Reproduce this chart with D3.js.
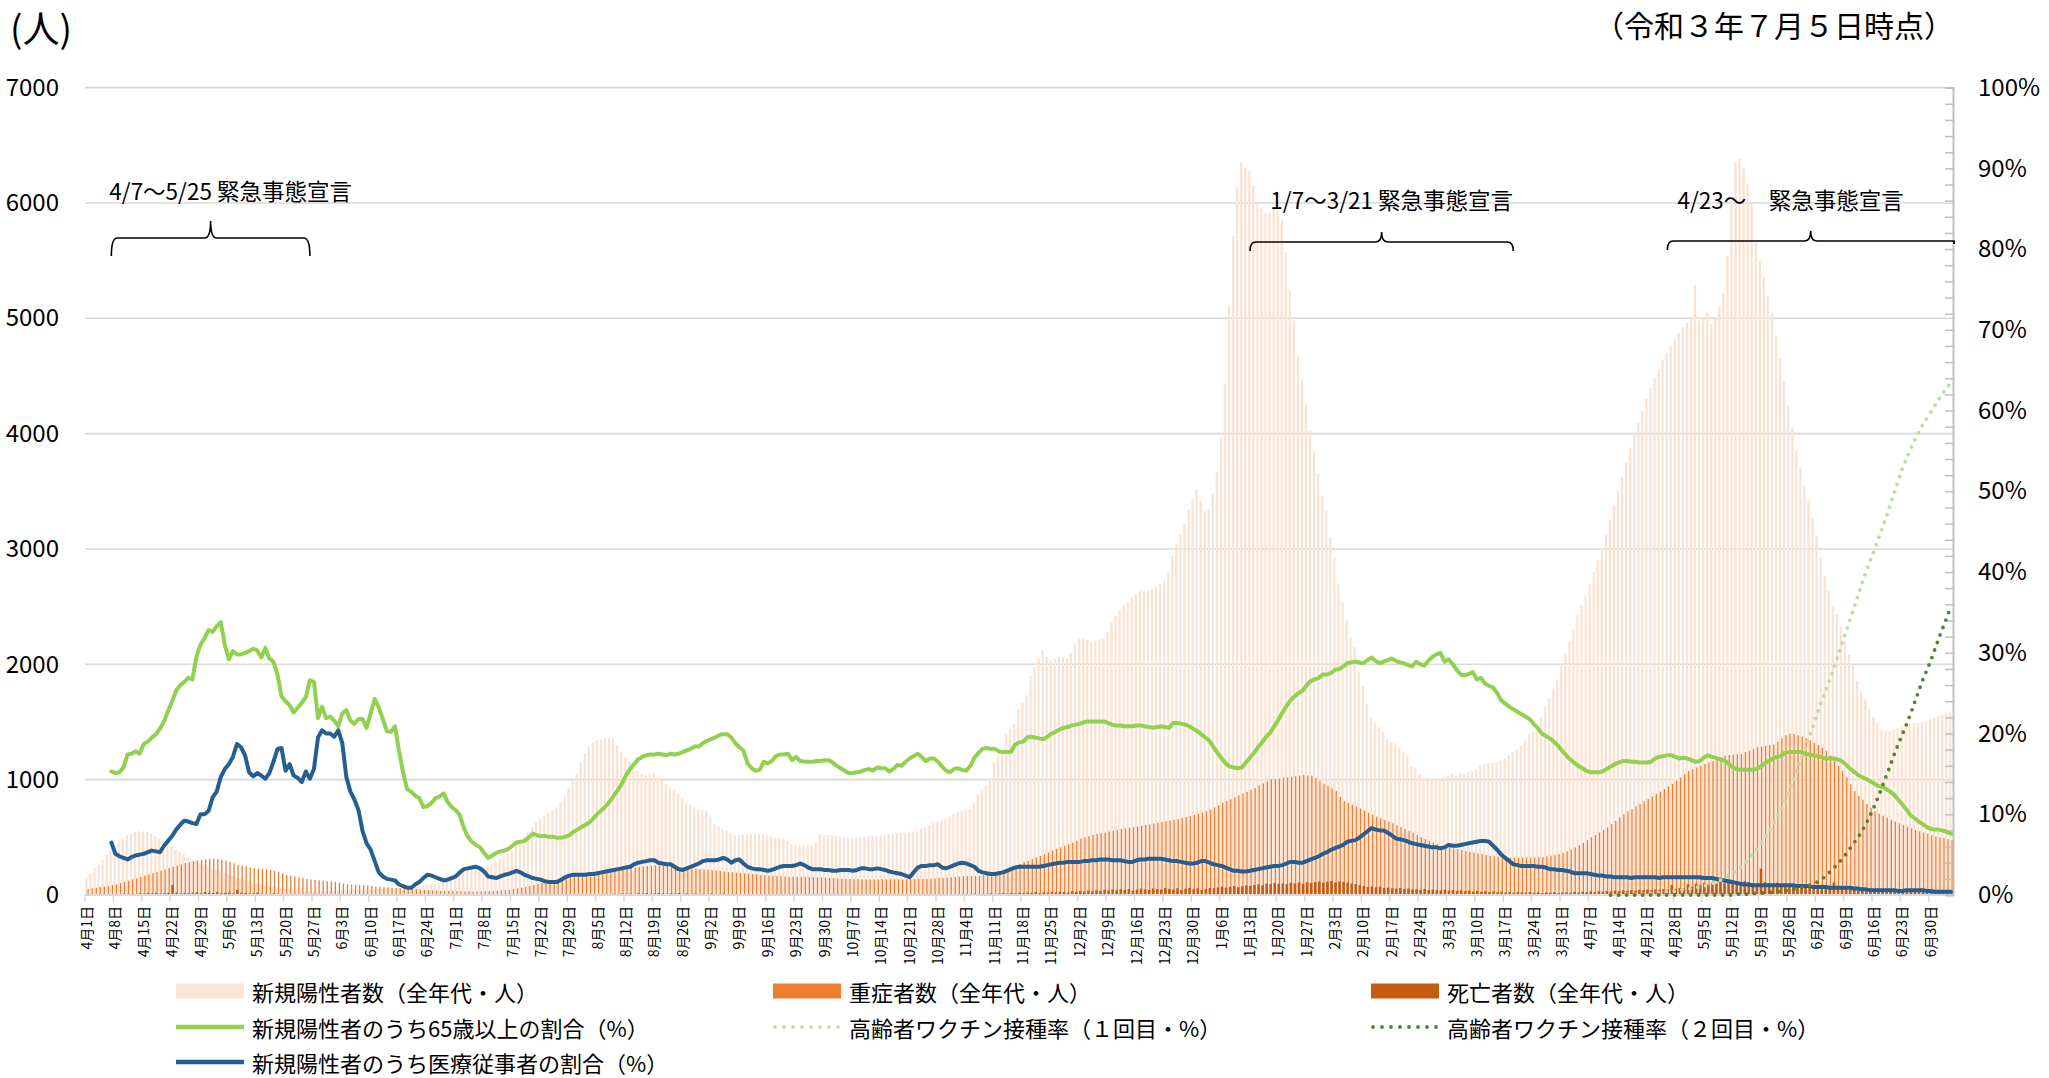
<!DOCTYPE html>
<html><head><meta charset="utf-8">
<script src="https://cdn.jsdelivr.net/npm/d3@7"></script>
<style>
html,body{margin:0;padding:0;background:#fff;}
svg{display:block;font-family:"Noto Sans CJK JP","Noto Sans",sans-serif;}
</style></head><body>
<svg id="chart" width="2049" height="1078"></svg>
<script>
// ---------- DATA ----------
const startDate = [2020, 4, 1];   // first category (year, month, day)
const dayCount = 461;             // 2020-04-01 .. 2021-07-05

// 新規陽性者数（全年代・人）
const newCases = [
150,190,233,262,306,350,394,423,466,490,
519,534,545,554,554,548,534,510,490,472,
452,423,394,373,356,335,315,297,277,262,
242,228,215,202,190,178,165,152,140,128,
118,108,99,90,82,75,68,62,57,52,
48,44,40,37,34,32,31,32,33,35,
37,38,39,40,41,42,43,44,45,46,
47,48,50,52,54,56,58,61,64,68,
72,76,80,84,88,95,102,110,120,132,
150,165,180,198,212,225,235,242,248,254,
270,290,312,335,360,384,420,460,500,545,
590,630,660,685,710,731,760,800,860,933,
990,1049,1150,1230,1290,1320,1340,1350,1360,1361,
1355,1300,1240,1194,1160,1136,1080,1050,1043,1050,
1055,1020,990,962,930,910,880,840,803,780,
760,745,735,731,680,615,590,570,558,535,
514,520,527,529,529,529,529,529,520,510,
500,495,488,470,440,428,428,428,428,435,
457,528,525,520,515,510,505,500,495,493,
495,500,505,510,513,515,520,525,528,532,
535,538,540,542,548,560,571,585,605,629,
640,650,658,680,700,722,730,738,745,800,
875,910,950,1006,1151,1200,1252,1397,1440,1484,
1615,1670,1731,1900,1977,2050,2122,2064,2035,2050,
2064,2060,2050,2100,2165,2232,2224,2210,2194,2203,
2215,2224,2282,2368,2420,2470,2520,2542,2580,2610,
2639,2639,2639,2653,2670,2697,2726,2798,2942,3044,
3130,3217,3347,3434,3520,3419,3327,3347,3477,3665,
3968,4431,5110,5717,6136,6353,6303,6280,6150,5991,
5948,5910,5910,5948,5934,5847,5572,5240,4980,4677,
4474,4257,4026,3853,3650,3463,3333,3102,2928,2697,
2538,2383,2238,2151,1934,1809,1658,1528,1490,1455,
1412,1354,1325,1316,1281,1238,1209,1122,1107,1049,
1020,1020,1006,1006,1006,1020,1035,1049,1035,1049,
1049,1064,1073,1093,1122,1136,1142,1145,1151,1165,
1180,1209,1238,1267,1296,1339,1397,1412,1470,1542,
1629,1702,1789,1861,1992,2093,2195,2296,2426,2513,
2600,2700,2800,2900,3000,3120,3250,3380,3500,3620,
3750,3880,4000,4100,4200,4300,4400,4480,4560,4640,
4700,4760,4820,4870,4920,4960,5000,5290,4980,5000,
5050,4950,5000,5100,5220,5540,6030,6350,6380,6300,
6160,5990,5660,5490,5350,5200,5050,4850,4650,4450,
4250,4050,3850,3700,3550,3420,3270,3116,2928,2768,
2638,2507,2435,2319,2203,2087,1985,1855,1768,1696,
1608,1542,1493,1435,1426,1420,1435,1449,1464,1478,
1484,1493,1493,1501,1507,1522,1536,1551,1565,1580,
1590];

// 重症者数（全年代・人）
const severe = [
52,58,63,68,74,80,86,93,103,113,
124,135,146,157,168,179,190,201,212,222,
233,244,255,266,277,285,292,299,306,310,
313,315,312,305,297,288,275,262,255,248,
240,233,229,225,222,219,210,200,188,175,
168,160,152,147,141,136,131,127,124,120,
117,112,106,99,93,90,88,86,84,82,
78,74,71,67,65,63,61,60,59,58,
56,52,48,45,42,40,38,37,36,35,
35,34,33,32,32,31,31,31,32,33,
35,37,40,43,47,52,58,64,72,80,
88,96,104,112,120,128,135,142,150,158,
165,170,175,180,184,188,192,197,203,209,
215,220,226,232,236,240,244,248,251,254,
256,256,254,251,248,244,240,237,234,230,
228,225,222,219,215,212,208,204,200,197,
194,191,188,185,182,179,175,172,168,166,
164,162,161,160,159,159,158,157,156,155,
154,153,150,148,146,144,142,140,139,138,
137,136,136,136,136,136,136,136,136,136,
136,136,136,137,138,139,140,141,142,144,
146,148,150,153,156,159,162,164,165,166,
167,170,178,186,195,203,210,215,230,250,
268,285,296,310,325,339,355,370,385,400,
413,426,440,455,470,490,500,510,520,530,
537,542,550,558,565,571,577,583,588,594,
600,606,612,620,627,634,640,646,652,660,
668,675,684,694,705,716,726,740,760,780,
800,815,830,848,865,880,895,912,930,950,
968,985,1000,1005,1010,1015,1020,1025,1030,1035,
1040,1038,1035,1015,990,965,945,925,904,850,
815,800,785,768,750,732,714,696,680,666,
652,638,622,605,590,573,557,540,522,503,
484,470,455,440,426,418,411,404,397,390,
382,375,368,361,354,347,340,336,332,328,
325,325,324,324,325,325,325,326,327,330,
335,341,347,354,366,378,392,412,432,452,
475,499,520,542,564,586,615,644,673,702,
724,746,768,789,811,832,854,875,897,919,
940,962,990,1020,1050,1078,1092,1106,1120,1136,
1150,1164,1180,1195,1209,1213,1216,1220,1223,1238,
1252,1266,1281,1287,1293,1299,1305,1330,1360,1385,
1400,1395,1385,1375,1360,1340,1320,1300,1278,1252,
1210,1165,1120,1078,1020,960,900,860,825,790,
755,724,705,688,670,653,637,622,608,594,
579,565,553,541,530,518,507,500,493,485,
478];

// 死亡者数（全年代・人）
const deaths = [
3,4,2,6,5,8,7,9,5,12,10,11,9,14,13,18,15,20,12,16,19,87,22,14,18,17,21,24,15,26,20,
18,25,16,19,22,14,44,20,17,13,15,21,12,10,9,14,11,8,7,6,9,5,8,6,4,7,5,3,6,4,
3,2,4,5,2,3,1,2,4,3,2,1,2,3,1,0,2,1,3,2,1,0,1,2,1,0,1,2,1,0,
1,0,2,1,0,1,2,1,0,1,2,1,0,2,1,1,3,2,1,0,2,3,1,2,4,3,2,5,4,3,6,
5,7,6,8,5,9,10,7,12,8,14,11,13,9,15,12,16,10,14,18,13,11,15,12,17,9,14,10,12,8,11,
9,13,7,10,12,8,6,11,9,7,10,5,8,6,9,7,4,8,6,5,7,9,6,8,5,7,6,4,8,5,
7,5,6,4,8,6,5,7,3,9,5,6,4,7,5,6,8,4,6,5,7,3,6,4,5,7,6,8,5,9,7,
6,8,10,7,9,12,8,11,10,14,9,13,16,12,18,15,20,17,22,19,25,18,24,21,28,23,30,26,22,33,
28,35,30,38,33,41,36,44,39,48,42,50,45,52,38,47,55,49,43,56,51,46,60,53,48,58,44,55,62,50,57,
45,52,60,58,66,72,64,70,78,68,75,84,79,87,92,85,99,95,104,98,101,93,106,100,108,97,110,103,112,118,107,
116,122,109,118,113,107,100,94,86,78,70,74,66,72,60,64,58,55,62,52,56,48,50,45,53,44,47,42,
40,46,38,43,35,41,33,37,30,36,28,32,26,31,24,29,22,27,20,25,23,21,26,19,24,18,22,20,25,17,21,
23,19,26,22,28,24,30,27,33,29,35,31,38,34,40,36,42,38,45,41,47,43,49,46,52,48,87,55,60,58,
93,72,98,85,104,90,110,95,115,100,108,96,118,105,122,110,100,98,229,112,104,96,107,92,100,88,95,84,90,80,86,
78,85,72,80,68,110,70,64,72,58,66,55,62,50,57,46,53,42,49,40,45,37,42,34,39,31,36,29,33,27,
30,25,28,22,24];

// lines (%), starting at index of 2020-04-07
const ratioStartIndex = 6;
// 新規陽性者のうち65歳以上の割合（%）
const elderlyRatio = [
15.3,15.1,15.2,15.8,17.4,17.5,17.8,17.5,18.7,19.0,
19.5,19.9,20.6,21.5,22.8,24.0,25.3,26.0,26.4,26.9,
26.7,29.5,31.0,31.8,32.8,32.6,33.3,33.8,31.0,29.2,
30.2,29.8,29.8,30.0,30.2,30.5,30.3,29.4,30.6,29.3,
28.9,27.3,24.6,24.0,23.5,22.6,23.2,23.8,24.5,26.6,
26.4,21.9,23.3,21.9,22.1,21.6,20.9,22.5,22.9,21.6,
21.2,21.8,21.8,20.7,22.5,24.3,23.2,21.8,20.3,20.2,
20.9,17.8,15.2,13.1,12.8,12.3,12.0,10.9,11.0,11.4,
12.0,12.2,12.6,11.5,10.9,10.5,9.9,8.3,7.2,6.6,
6.2,5.9,5.2,4.6,4.9,5.2,5.4,5.5,5.7,6.1,
6.5,6.6,6.7,7.1,7.6,7.4,7.3,7.3,7.2,7.2,
7.1,7.1,7.2,7.4,7.8,8.1,8.4,8.7,9.0,9.5,
10.1,10.5,11.0,11.6,12.3,13.0,13.8,14.8,15.6,16.2,
16.8,17.1,17.3,17.4,17.4,17.5,17.4,17.3,17.5,17.4,
17.5,17.7,17.9,18.1,18.4,18.4,18.8,19.1,19.3,19.5,
19.8,19.9,19.9,19.5,18.8,18.3,17.9,16.3,15.7,15.4,
15.5,16.5,16.3,16.6,17.2,17.4,17.4,17.5,16.7,17.1,
16.6,16.5,16.5,16.5,16.6,16.6,16.7,16.7,16.4,16.0,
15.7,15.4,15.1,15.1,15.2,15.3,15.5,15.6,15.4,15.8,
15.7,15.7,15.3,15.6,16.1,16.0,16.5,16.9,17.2,17.5,
17.1,16.6,16.9,16.9,16.5,15.9,15.4,15.2,15.6,15.7,
15.5,15.4,16.0,17.0,17.6,18.1,18.2,18.1,18.1,17.8,
17.7,17.7,17.7,18.6,18.9,19.0,19.5,19.6,19.5,19.4,
19.3,19.6,20.0,20.2,20.5,20.7,20.8,21.0,21.1,21.2,
21.4,21.5,21.5,21.5,21.5,21.5,21.3,21.1,21.0,21.0,
20.9,20.9,20.9,21.0,21.0,20.9,20.8,20.7,20.8,20.9,
20.8,20.7,21.3,21.3,21.2,21.1,20.9,20.6,20.3,19.9,
19.5,19.1,18.3,17.6,16.9,16.3,15.9,15.8,15.7,15.8,
16.4,17.0,17.6,18.3,18.9,19.6,20.1,20.9,21.7,22.6,
23.4,24.1,24.6,25.0,25.3,26.0,26.5,26.7,26.9,27.3,
27.3,27.5,27.9,28.0,28.3,28.7,28.8,28.9,28.8,28.7,
29.1,29.4,29.0,28.7,28.9,29.1,29.3,29.0,28.8,28.7,
28.5,28.3,28.9,28.6,28.4,29.0,29.5,29.8,30.0,28.9,
29.2,28.6,27.9,27.3,27.2,27.4,27.6,26.7,26.9,26.2,
25.9,25.7,25.0,24.1,23.7,23.3,23.0,22.7,22.4,22.1,
21.8,21.2,20.7,20.0,19.7,19.4,19.0,18.5,17.9,17.3,
16.8,16.4,16.0,15.7,15.4,15.2,15.2,15.2,15.3,15.6,
15.9,16.2,16.4,16.6,16.6,16.5,16.5,16.4,16.4,16.4,
16.5,16.9,17.1,17.2,17.3,17.3,17.1,16.9,17.0,16.9,
16.7,16.5,16.6,17.0,17.3,17.1,17.0,16.8,16.7,16.3,
15.9,15.6,15.5,15.5,15.5,15.5,15.6,15.9,16.3,16.6,
16.9,17.1,17.2,17.6,17.7,17.7,17.7,17.7,17.5,17.4,
17.3,17.2,17.1,16.9,16.9,16.9,16.8,16.6,16.2,15.7,
15.3,14.9,14.6,14.4,14.1,13.8,13.5,13.4,13.1,12.8,
12.4,11.8,11.2,10.6,9.9,9.5,9.1,8.8,8.4,8.2,
8.1,8.1,8.0,7.8,7.6];

// 新規陽性者のうち医療従事者の割合（%）
const medicalRatio = [
6.5,5.1,4.8,4.6,4.4,4.7,4.9,5.0,5.1,5.3,
5.5,5.4,5.3,6.1,6.7,7.3,8.1,8.7,9.2,9.1,
8.9,8.8,10.0,10.0,10.4,12.1,12.8,14.6,15.6,16.2,
17.1,18.7,18.3,17.3,15.2,14.7,15.1,14.8,14.4,15.1,
16.5,18.1,18.2,15.4,16.2,14.8,14.5,14.0,15.3,14.4,
15.6,19.5,20.4,20.0,20.0,19.6,20.4,18.8,14.6,12.8,
11.8,10.5,7.9,6.4,5.6,4.2,2.8,2.3,2.0,1.9,
1.8,1.3,1.1,0.9,0.9,1.3,1.6,2.1,2.5,2.4,
2.2,2.0,1.8,1.9,2.1,2.3,2.8,3.2,3.3,3.4,
3.5,3.3,2.9,2.3,2.2,2.1,2.3,2.5,2.6,2.8,
3.0,2.8,2.5,2.3,2.1,2.0,1.9,1.7,1.6,1.6,
1.6,1.9,2.2,2.4,2.5,2.5,2.5,2.5,2.6,2.6,
2.7,2.8,2.9,3.0,3.1,3.2,3.3,3.4,3.5,3.8,
4.0,4.1,4.2,4.3,4.3,4.0,3.9,3.8,3.8,3.5,
3.2,3.1,3.3,3.5,3.7,3.9,4.2,4.3,4.3,4.3,
4.4,4.6,4.4,4.0,4.3,4.4,3.9,3.5,3.3,3.2,
3.2,3.1,3.0,3.1,3.3,3.5,3.6,3.6,3.6,3.7,
3.9,3.7,3.4,3.2,3.2,3.2,3.1,3.1,3.0,3.0,
3.1,3.1,3.1,3.0,3.1,3.3,3.3,3.2,3.2,3.3,
3.2,3.1,2.9,2.8,2.7,2.6,2.4,2.2,2.8,3.4,
3.6,3.6,3.7,3.7,3.8,3.4,3.3,3.5,3.7,3.9,
4.0,3.9,3.7,3.5,3.0,2.8,2.7,2.6,2.6,2.7,
2.8,3.0,3.2,3.4,3.5,3.5,3.5,3.5,3.5,3.5,
3.6,3.7,3.8,3.9,4.0,4.0,4.1,4.1,4.1,4.1,
4.2,4.2,4.3,4.3,4.4,4.4,4.4,4.3,4.3,4.3,
4.2,4.1,4.1,4.3,4.4,4.4,4.5,4.5,4.5,4.5,
4.4,4.3,4.2,4.2,4.1,4.0,3.9,3.9,4.0,4.2,
4.2,4.0,3.8,3.7,3.6,3.4,3.2,3.0,3.0,2.9,
2.9,3.0,3.1,3.2,3.3,3.4,3.5,3.6,3.6,3.7,
3.9,4.1,4.1,4.0,4.0,4.2,4.4,4.6,4.8,5.1,
5.3,5.6,5.8,6.0,6.2,6.6,6.7,6.8,7.1,7.5,
7.9,8.3,8.1,8.0,8.0,7.7,7.4,7.0,6.9,6.8,
6.6,6.4,6.3,6.2,6.1,6.0,5.9,5.9,5.8,5.9,
6.2,6.1,6.1,6.2,6.3,6.4,6.5,6.6,6.7,6.7,
6.6,6.1,5.6,5.0,4.6,4.2,3.8,3.7,3.6,3.6,
3.6,3.6,3.5,3.5,3.4,3.2,3.2,3.1,3.1,3.0,
2.9,2.7,2.7,2.7,2.7,2.6,2.5,2.4,2.4,2.3,
2.3,2.2,2.2,2.2,2.2,2.1,2.2,2.2,2.2,2.2,
2.2,2.2,2.1,2.2,2.2,2.2,2.2,2.2,2.2,2.2,
2.2,2.2,2.2,2.1,2.1,2.1,2.0,1.9,1.8,1.7,
1.6,1.5,1.4,1.3,1.3,1.2,1.2,1.2,1.2,1.2,
1.2,1.2,1.2,1.2,1.2,1.2,1.1,1.1,1.1,1.1,
1.0,1.0,1.0,1.0,0.9,0.9,0.9,0.9,0.9,0.9,
0.8,0.8,0.7,0.7,0.6,0.6,0.6,0.6,0.6,0.6,
0.6,0.5,0.5,0.6,0.6,0.6,0.6,0.6,0.5,0.5,
0.4,0.4,0.4,0.4,0.4];

// vaccination lines (%), starting at index of 2021-04-12
const vaccineStartIndex = 376;
// 高齢者ワクチン接種率（１回目・%）
const vaccine1 = [
0.0,0.0,0.0,0.0,0.1,0.1,0.1,0.1,0.1,0.2,
0.2,0.2,0.3,0.3,0.4,0.5,0.5,0.6,0.7,0.7,
0.8,0.9,1.0,1.1,1.3,1.4,1.6,1.8,2.1,2.4,
2.7,3.0,3.4,3.9,4.4,5.0,5.6,6.3,7.0,7.8,
8.7,9.6,10.5,11.6,12.8,14.1,15.4,16.8,18.1,19.6,
21.0,22.5,23.9,25.2,26.6,28.0,29.5,31.0,32.5,34.0,
35.5,37.0,38.5,40.0,41.3,42.6,44.0,45.4,46.8,48.3,
49.8,51.3,52.8,54.0,55.2,56.3,57.3,58.2,59.0,59.8,
60.6,61.4,62.1,62.8,63.5];
// 高齢者ワクチン接種率（２回目・%）
const vaccine2 = [
0,0,0,0,0,0,0,0,0,0,
0,0,0,0,0,0,0,0,0,0,
0,0,0,0,0,0,0,0,0,0,
0.0,0.1,0.1,0.1,0.1,0.2,0.2,0.2,0.3,0.3,
0.4,0.4,0.5,0.5,0.6,0.7,0.8,0.9,1.0,1.2,
1.4,1.6,1.9,2.3,2.8,3.3,3.8,4.4,5.0,5.7,
6.4,7.1,7.9,8.8,9.8,10.9,12.1,13.4,14.7,16.0,
17.4,18.7,19.9,21.1,22.4,23.8,25.2,26.6,27.8,29.0,
30.4,31.8,33.1,34.4,35.8];

const leftTicks = [0,1000,2000,3000,4000,5000,6000,7000];
const rightTicks = [0,10,20,30,40,50,60,70,80,90,100];
const minorRightTicks = d3.range(0, 101, 2);
const tickEvery = 7;

// emergency declarations: label, bracket start/end index (as drawn)
const declarations = [
  {label: "4/7～5/25 緊急事態宣言", from: 6, to: 55},
  {label: "1/7～3/21 緊急事態宣言", from: 287, to: 352},
  {label: "4/23～\u3000緊急事態宣言", from: 390, to: null}
];

const titleUnit = "(人)";
const titleDate = "（令和３年７月５日時点）";

const legendItems = [
  {label: "新規陽性者数（全年代・人）", kind: "rect", color: "#FBE5D6"},
  {label: "重症者数（全年代・人）", kind: "rect", color: "#ED7D31"},
  {label: "死亡者数（全年代・人）", kind: "rect", color: "#C55A11"},
  {label: "新規陽性者のうち65歳以上の割合（%）", kind: "line", color: "#92D050"},
  {label: "高齢者ワクチン接種率（１回目・%）", kind: "dot", color: "#C0DDA9"},
  {label: "高齢者ワクチン接種率（２回目・%）", kind: "dot", color: "#548235"},
  {label: "新規陽性者のうち医療従事者の割合（%）", kind: "line", color: "#255E91"}
];

// ---------- CHART ----------
const svg = d3.select("#chart");
const plot = {left: 85, right: 1953, top: 87.6, bottom: 895};
const dates = d3.timeDay.range(new Date(startDate[0], startDate[1]-1, startDate[2]),
                               new Date(startDate[0], startDate[1]-1, startDate[2] + dayCount));
const idx = d3.range(dayCount);
const x = d3.scaleBand().domain(idx).range([plot.left, plot.right]).padding(0);
const bw = x.bandwidth();
const yL = d3.scaleLinear().domain([0, 7000]).range([plot.bottom, plot.top]);
const yR = d3.scaleLinear().domain([0, 100]).range([plot.bottom, plot.top]);
const fmt = d => `${d.getMonth()+1}月${d.getDate()}日`;
const grey = "#d9d9d9";
const FONT = '"Noto Sans CJK JP", sans-serif';

// gridlines
svg.append("g").selectAll("line").data(leftTicks.filter(v => v > 0)).join("line")
  .attr("x1", plot.left).attr("x2", plot.right)
  .attr("y1", d => yL(d)).attr("y2", d => yL(d))
  .attr("stroke", grey).attr("stroke-width", 1.6);

// bars
const bars = svg.append("g");
bars.selectAll("rect.nc").data(newCases).join("rect").attr("class","nc")
  .attr("x", (d,i) => x(i) + 0.2).attr("width", 2.3)
  .attr("y", d => yL(d)).attr("height", d => plot.bottom - yL(d))
  .attr("fill", "#FBE3D3");
bars.selectAll("rect.sv").data(severe).join("rect").attr("class","sv")
  .attr("x", (d,i) => x(i) + 2.5).attr("width", 1.3)
  .attr("y", d => yL(d)).attr("height", d => plot.bottom - yL(d))
  .attr("fill", "#ED7D31");
bars.selectAll("rect.dt").data(deaths).join("rect").attr("class","dt")
  .attr("x", (d,i) => x(i) + 1.2).attr("width", 2.5)
  .attr("y", d => yL(d)).attr("height", d => plot.bottom - yL(d))
  .attr("fill", "#C55A11");

// x axis
svg.append("line").attr("x1", plot.left).attr("x2", plot.right)
  .attr("y1", plot.bottom).attr("y2", plot.bottom).attr("stroke", grey).attr("stroke-width", 2);
const tickIdx = idx.filter(i => i % tickEvery === 0);
svg.append("g").selectAll("line").data(tickIdx).join("line")
  .attr("x1", i => x(i)).attr("x2", i => x(i))
  .attr("y1", plot.bottom).attr("y2", plot.bottom + 7)
  .attr("stroke", grey).attr("stroke-width", 1.5);
const xAxis = svg.append("g").attr("transform", `translate(0,${plot.bottom})`)
  .call(d3.axisBottom(x).tickValues(tickIdx).tickFormat(i => fmt(dates[i])).tickSize(0));
xAxis.select(".domain").remove();
xAxis.selectAll("text")
  .attr("transform", "rotate(-90)")
  .attr("text-anchor", "end")
  .attr("x", -11).attr("y", 0).attr("dy", "0.36em")
  .attr("font-size", 14).attr("fill", "#000")
  .attr("font-family", FONT);

// left axis labels
const yAxisL = svg.append("g").attr("transform", `translate(${plot.left},0)`)
  .call(d3.axisLeft(yL).tickValues(leftTicks).tickSize(0).tickPadding(26).tickFormat(d3.format("d")));
yAxisL.select(".domain").remove();
yAxisL.selectAll("text").attr("font-size", 24).attr("fill", "#000").attr("font-family", FONT);

// right axis (line + inner minor ticks)
const yAxisRt = svg.append("g").attr("transform", `translate(${plot.right},0)`)
  .call(d3.axisLeft(yR).tickValues(minorRightTicks).tickSize(8).tickFormat(""));
yAxisRt.select(".domain").attr("stroke", "#bfbfbf").attr("stroke-width", 2);
yAxisRt.selectAll(".tick line").attr("stroke", "#bfbfbf").attr("stroke-width", 1.5);
const yAxisR = svg.append("g").attr("transform", `translate(${plot.right},0)`)
  .call(d3.axisRight(yR).tickValues(rightTicks).tickSize(0).tickPadding(25).tickFormat(d => d + "%"));
yAxisR.select(".domain").remove();
yAxisR.selectAll("text").attr("font-size", 24).attr("fill", "#000").attr("font-family", FONT);

// ratio lines
const cx = i => x(i) + bw / 2;
function seriesLine(arr, start) {
  return d3.line().x((d,k) => cx(start + k)).y(d => yR(d))(arr);
}
svg.append("path").attr("d", seriesLine(elderlyRatio, ratioStartIndex))
  .attr("fill", "none").attr("stroke", "#92D050").attr("stroke-width", 4)
  .attr("stroke-linejoin", "round").attr("stroke-linecap", "round");
svg.append("path").attr("d", seriesLine(medicalRatio, ratioStartIndex))
  .attr("fill", "none").attr("stroke", "#255E91").attr("stroke-width", 4)
  .attr("stroke-linejoin", "round").attr("stroke-linecap", "round");
svg.append("path").attr("d", seriesLine(vaccine1, vaccineStartIndex))
  .attr("fill", "none").attr("stroke", "#C0DDA9").attr("stroke-width", 4)
  .attr("stroke-dasharray", "0 8").attr("stroke-linecap", "round");
svg.append("path").attr("d", seriesLine(vaccine2, vaccineStartIndex))
  .attr("fill", "none").attr("stroke", "#548235").attr("stroke-width", 3.8)
  .attr("stroke-dasharray", "0 8").attr("stroke-linecap", "round");

// declarations (braces + labels)
const braceGeom = [
  {yTip: 221, yLine: 238, yEnd: 256, ty: 190, anchor: "start", dx: -2},
  {yTip: 232, yLine: 242, yEnd: 251, ty: 199, anchor: "middle", dx: 10},
  {yTip: 231, yLine: 241, yEnd: 250, ty: 199, anchor: "middle", dx: -20}
];
function bracePath(x1, x2, g, open) {
  const xm = (x1 + x2) / 2, r = 6;
  let p = `M${x1},${g.yEnd} Q${x1},${g.yLine} ${x1 + r},${g.yLine} L${xm - r},${g.yLine} ` +
          `Q${xm},${g.yLine} ${xm},${g.yTip} Q${xm},${g.yLine} ${xm + r},${g.yLine} `;
  if (open) p += `L${x2},${g.yLine} L${x2},${g.yLine + 3}`;
  else p += `L${x2 - r},${g.yLine} Q${x2},${g.yLine} ${x2},${g.yEnd}`;
  return p;
}
declarations.forEach((d, k) => {
  const g = braceGeom[k];
  const x1 = cx(d.from);
  const x2 = d.to === null ? plot.right + 1 : cx(d.to);
  svg.append("path").attr("d", bracePath(x1, x2, g, d.to === null))
    .attr("fill", "none").attr("stroke", "#000").attr("stroke-width", 1.6);
  const tx = g.anchor === "start" ? x1 + g.dx : (x1 + x2) / 2 + g.dx;
  svg.append("text").attr("x", tx).attr("y", g.ty).attr("dominant-baseline", "central")
    .attr("text-anchor", g.anchor).attr("font-size", 22.5).text(d.label);
});

// titles
svg.append("text").attr("x", 10).attr("y", 27).attr("dominant-baseline", "central")
  .attr("font-size", 37).text(titleUnit);
svg.append("text").attr("x", 1954).attr("y", 24).attr("dominant-baseline", "central")
  .attr("text-anchor", "end").attr("font-size", 30).text(titleDate);

// legend
const legPos = [[176, 991], [773, 991], [1371, 991], [176, 1027], [773, 1027], [1371, 1027], [176, 1062]];
const leg = svg.append("g");
legendItems.forEach((it, k) => {
  const [lx, ly] = legPos[k];
  if (it.kind === "rect") {
    leg.append("rect").attr("x", lx).attr("y", ly - 7.5).attr("width", 68).attr("height", 15).attr("fill", it.color);
  } else if (it.kind === "line") {
    leg.append("line").attr("x1", lx).attr("x2", lx + 68).attr("y1", ly).attr("y2", ly)
      .attr("stroke", it.color).attr("stroke-width", 4.5);
  } else {
    leg.append("line").attr("x1", lx + 2).attr("x2", lx + 66).attr("y1", ly).attr("y2", ly)
      .attr("stroke", it.color).attr("stroke-width", 3.8)
      .attr("stroke-dasharray", "0 9").attr("stroke-linecap", "round");
  }
  leg.append("text").attr("x", lx + 76).attr("y", ly).attr("dominant-baseline", "central")
    .attr("font-size", 22).text(it.label);
});
</script>
</body></html>
